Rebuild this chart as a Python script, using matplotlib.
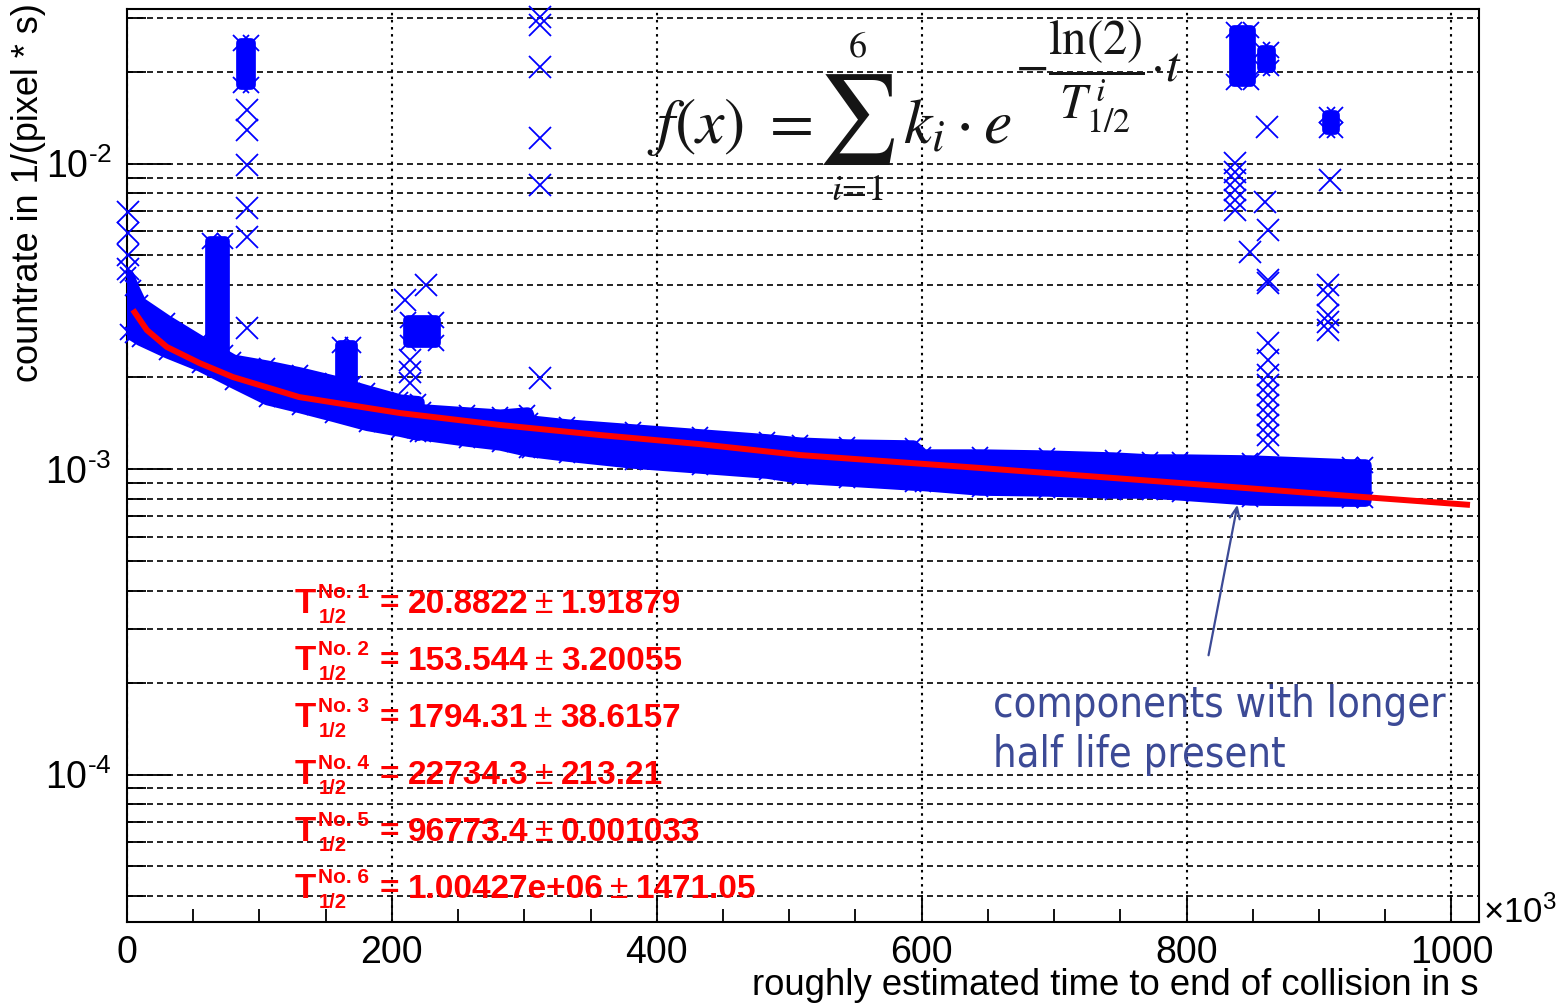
import numpy as np
import matplotlib
matplotlib.use('Agg')
import matplotlib.pyplot as plt
from matplotlib.transforms import IdentityTransform
from matplotlib.ticker import MultipleLocator, LogLocator, NullFormatter, FixedLocator, FuncFormatter

plt.rcParams.update({
    'font.family': ['Liberation Sans', 'DejaVu Sans'],
    'mathtext.fontset': 'custom',
    'mathtext.rm': 'Liberation Sans',
    'mathtext.it': 'Liberation Sans:italic',
    'mathtext.bf': 'Liberation Sans:bold',
})

# ---------------- data (x in units of 10^3 s) ----------------
# main band, segment 1 (envelope of the dense scatter)
seg1_x = [0.5, 4.5, 9.8, 30.2, 55.1, 80.0, 105.7, 130.6, 155.5, 181.2, 206.1, 219.7]
seg1_top = [4.31e-3, 3.91e-3, 3.50e-3, 3.05e-3, 2.62e-3, 2.27e-3, 2.17e-3, 2.06e-3, 1.94e-3, 1.80e-3, 1.68e-3, 1.66e-3]
seg1_bot = [2.81e-3, 2.75e-3, 2.66e-3, 2.42e-3, 2.19e-3, 1.93e-3, 1.70e-3, 1.60e-3, 1.50e-3, 1.40e-3, 1.34e-3, 1.30e-3]

# main band, segment 2
seg2_x = [223.5, 256.7, 281.6, 302.0, 304.0, 332.2, 382.0, 432.6, 483.2, 508.1, 543.6,
          593.4, 601.0, 644.0, 694.6, 744.4, 772.4, 795.0, 847.9, 923.4, 934.7]
seg2_top = [1.56e-3, 1.525e-3, 1.50e-3, 1.525e-3, 1.436e-3, 1.393e-3, 1.342e-3, 1.293e-3, 1.245e-3, 1.215e-3, 1.198e-3,
            1.189e-3, 1.111e-3, 1.111e-3, 1.102e-3, 1.086e-3, 1.070e-3, 1.070e-3, 1.062e-3, 1.031e-3, 1.031e-3]
seg2_bot = [1.302e-3, 1.244e-3, 1.208e-3, 1.154e-3, 1.150e-3, 1.111e-3, 1.054e-3, 1.015e-3, 0.977e-3, 0.941e-3, 0.921e-3,
            0.893e-3, 0.890e-3, 0.860e-3, 0.854e-3, 0.841e-3, 0.841e-3, 0.829e-3, 0.798e-3, 0.791e-3, 0.791e-3]

# dense clusters / spikes above the band
spike_x0 = [63.0, 86.0, 161.0, 212.0, 836.0, 857.0, 906.0]
spike_x1 = [74.0, 93.6, 171.0, 233.0, 849.0, 864.0, 912.0]
spike_lo = [2.40e-3, 18.1e-3, 1.90e-3, 2.585e-3, 18.5e-3, 20.5e-3, 12.9e-3]
spike_hi = [5.58e-3, 24.8e-3, 2.55e-3, 3.075e-3, 27.3e-3, 23.5e-3, 14.4e-3]

# isolated points
out_x = [0.5, 0.5, 0.5, 0.5,
         90.6, 90.6, 90.6, 90.6, 90.6, 90.6,
         210.0, 225.7, 213.7, 213.7, 213.7,
         311.8, 311.8, 311.8, 311.8, 311.8, 311.8,
         860.7, 908.3,
         836.5, 836.5, 836.5, 836.5, 836.5, 836.5,
         859.2, 861.5, 847.9, 861.5, 861.5,
         906.8, 906.8, 906.8, 906.8, 906.8,
         861.5, 861.5, 861.5, 861.5, 861.5, 861.5, 861.5, 861.5, 861.5, 861.5]
out_y = [6.92e-3, 5.92e-3, 5.02e-3, 4.50e-3,
         14.96e-3, 12.87e-3, 9.89e-3, 7.15e-3, 5.75e-3, 2.89e-3,
         3.57e-3, 4.00e-3, 2.274e-3, 2.077e-3, 1.912e-3,
         30.2e-3, 28.4e-3, 20.7e-3, 12.12e-3, 8.50e-3, 1.986e-3,
         13.16e-3, 8.83e-3,
         10.04e-3, 9.38e-3, 8.83e-3, 8.19e-3, 7.60e-3, 7.04e-3,
         7.48e-3, 6.06e-3, 5.13e-3, 4.15e-3, 4.06e-3,
         4.00e-3, 3.71e-3, 3.19e-3, 3.03e-3, 2.85e-3,
         2.585e-3, 2.274e-3, 2.03e-3, 1.884e-3, 1.747e-3, 1.62e-3, 1.502e-3, 1.393e-3, 1.292e-3, 1.198e-3]

# fit curve
fit_x = [4.5, 15.0, 30.0, 55.0, 80.0, 130.0, 206.0, 282.0, 357.0, 432.0, 508.0, 644.0, 795.0, 933.0, 1014.0]
fit_y = [3.32e-3, 2.85e-3, 2.51e-3, 2.22e-3, 2.00e-3, 1.72e-3, 1.525e-3, 1.393e-3, 1.292e-3, 1.207e-3,
         1.111e-3, 1.008e-3, 0.90e-3, 0.81e-3, 0.763e-3]

# fitted half lives
thalf_val = ['20.8822', '153.544', '1794.31', '22734.3', '96773.4', '1.00427e+06']
thalf_err = ['1.91879', '3.20055', '38.6157', '213.21', '0.001033', '1471.05']

x_ticks = [0, 200, 400, 600, 800, 1000]
y_ticks = [1e-4, 1e-3, 1e-2]

BLUE = '#0000ff'
RED = '#ff0000'
ANNOT = '#3c4a96'
FORM = '#151515'

# ---------------- figure ----------------
W, H = 1564, 1005
fig = plt.figure(figsize=(W / 100, H / 100), dpi=100)
ax = fig.add_axes([127 / W, 1 - 922 / H, (1479 - 127) / W, (922 - 9) / H])
ax.set_yscale('log')
ax.set_xlim(0, 1020.8)
ax.set_ylim(3.29e-5, 3.205e-2)

MK = dict(ls='none', marker='x', ms=11, mew=1.3, color=BLUE, zorder=3)

# data
for xs, top, bot in [(seg1_x, seg1_top, seg1_bot), (seg2_x, seg2_top, seg2_bot)]:
    ax.fill_between(xs, bot, top, facecolor=BLUE, edgecolor=BLUE, lw=9, zorder=3)
    ax.plot(xs, top, clip_on=False, **MK)
    ax.plot(xs, bot, clip_on=False, **MK)

for x0, x1, lo, hi in zip(spike_x0, spike_x1, spike_lo, spike_hi):
    ax.fill_between([x0, x1], [lo, lo], [hi, hi], facecolor=BLUE, edgecolor=BLUE, lw=7, zorder=3)
    ax.plot([x0, x1], [hi, hi], **MK)
    ax.plot([x0, x1], [lo, lo], **MK)

ax.plot(out_x, out_y, ls='none', marker='x', ms=16, mew=1.3, color=BLUE, zorder=3, clip_on=False)

ax.plot(fit_x, fit_y, color=RED, lw=4.3, zorder=5, solid_capstyle='butt')

# axes styling
ax.xaxis.set_major_locator(FixedLocator(x_ticks))
ax.xaxis.set_minor_locator(MultipleLocator(50))
ax.yaxis.set_major_locator(FixedLocator(y_ticks))
ax.yaxis.set_minor_locator(LogLocator(base=10, subs=np.arange(2, 10), numticks=30))
ax.yaxis.set_minor_formatter(NullFormatter())
ax.yaxis.set_major_formatter(FuncFormatter(
    lambda v, p: r'$\mathregular{10^{\text{-}%d}}$' % abs(int(round(np.log10(v))))))
ax.xaxis.set_major_formatter(FuncFormatter(lambda v, p: '%d' % v))

ax.tick_params(axis='x', which='major', direction='in', length=19.5, width=1.3, labelsize=27, pad=9)
ax.tick_params(axis='x', which='minor', direction='in', length=9.5, width=1.3)
ax.tick_params(axis='y', which='major', direction='in', length=32, width=1.3, labelsize=27, pad=11)
ax.tick_params(axis='y', which='minor', direction='in', length=14, width=1.3)

ax.grid(True, axis='y', which='both', color='k', lw=1.2, ls=(0, (3.6, 2.4)))
ax.grid(True, axis='x', which='major', color='k', lw=1.5, ls=(0, (1.2, 2.2)))
ax.set_axisbelow(True)
for s in ax.spines.values():
    s.set_linewidth(1.5)

R = fig.canvas.get_renderer()


def ptext(x, y, s, **kw):
    return fig.text(x, H - y, s, transform=IdentityTransform(), **kw)


def fit_width(t, target):
    w = t.get_window_extent(R).width
    t.set_fontsize(t.get_fontsize() * target / w)


# axis labels
xl = ptext(1479, 995, 'roughly estimated time to end of collision in s', fontsize=26, ha='right', va='baseline')
fit_width(xl, 724)
yl = ptext(29, 3, 'countrate in 1/(pixel * s)', fontsize=26, rotation=90, ha='center', va='top')
ptext(1483, 923, r'$\mathregular{\times10^{3}}$', fontsize=25, ha='left', va='baseline')

# half-life results
row_base = [613, 670, 727, 784, 841, 898]
for i, (v, e) in enumerate(zip(thalf_val, thalf_err)):
    yb = row_base[i]
    ptext(295, yb, 'T', fontsize=25, fontweight='bold', color=RED, zorder=6)
    ptext(318, yb - 15, 'No. %d' % (i + 1), fontsize=15, fontweight='bold', color=RED, zorder=6)
    ptext(319, yb + 10, '1/2', fontsize=14.5, fontweight='bold', color=RED, zorder=6)
    ptext(380, yb, '=', fontsize=24, fontweight='bold', color=RED, zorder=6)
    t1 = ptext(408, yb, v, fontsize=24, fontweight='bold', color=RED, zorder=6)
    b1 = t1.get_window_extent(R)
    t2 = ptext(b1.x1 + 6, yb, '\u00b1', fontsize=24, color=RED, zorder=6)
    b2 = t2.get_window_extent(R)
    ptext(b2.x1 + 8, yb, e, fontsize=24, fontweight='bold', color=RED, zorder=6)

# formula
ptext(647, 143, r'$f(x)\ =$', fontsize=46, color=FORM, math_fontfamily='stix')
ptext(856, 119, r'$\sum$', fontsize=64, color=FORM, ha='center', va='center', math_fontfamily='stix')
ptext(857, 47, r'$6$', fontsize=26, color=FORM, ha='center', va='center', math_fontfamily='stix')
ptext(857, 190, r'$i\!=\!1$', fontsize=26, color=FORM, ha='center', va='center', math_fontfamily='stix')
ptext(903, 143, r'$k_i\cdot e$', fontsize=46, color=FORM, math_fontfamily='stix')
ptext(1015, 76, r'$-\dfrac{\mathrm{ln}(2)}{T^{\,i}_{1/2}}\!\cdot\! t$', fontsize=35, color=FORM,
      ha='left', va='center', math_fontfamily='stix')

# annotation
a1 = ptext(993, 717, 'components with longer', fontsize=28, color=ANNOT, family='DejaVu Sans', stretch='condensed')
fit_width(a1, 452)
ptext(993, 767, 'half life present', fontsize=a1.get_fontsize(), color=ANNOT, family='DejaVu Sans', stretch='condensed')
ax.annotate('', xy=(1238, H - 502), xycoords='figure pixels', xytext=(1208, H - 658), textcoords='figure pixels',
            arrowprops=dict(arrowstyle='->,head_length=0.8,head_width=0.35', color=ANNOT, lw=1.6))

fig.savefig('out.png', dpi=100)
